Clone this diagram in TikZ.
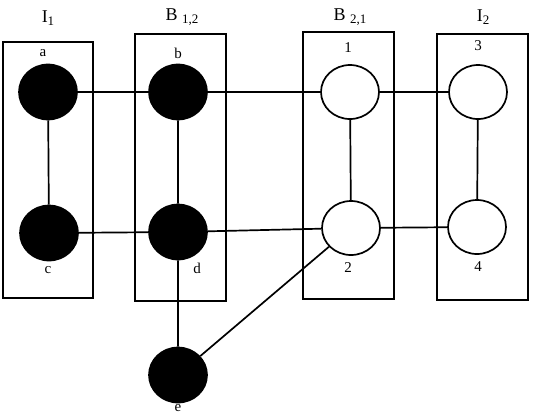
\documentclass[tikz,border=0pt]{standalone}
\usepackage{fontspec}
\setmainfont{Liberation Serif}
\usetikzlibrary{shapes.geometric}
\begin{document}
\begin{tikzpicture}[x=1pt,y=-1pt,line width=1.7pt,
  full/.style={ellipse,fill=black,draw,minimum width=58pt,minimum height=55pt,inner sep=0pt},
  empty/.style={ellipse,fill=white,draw,minimum width=58pt,minimum height=54pt,inner sep=0pt},
  lbl/.style={font=\fontsize{15}{17}\selectfont,inner sep=0pt},
  ttl/.style={font=\fontsize{18}{20}\selectfont,inner sep=0pt}]
\useasboundingbox (0,0) rectangle (535,416);
% Cajas
\draw (3,42) rectangle (93,298);
\draw (135,34) rectangle (226,301);
\draw (303,32) rectangle (394,299);
\draw (437,34) rectangle (528,300);
\node[ttl] (ti1) at (48,18) {I\raisebox{-0.45ex}{\fontsize{13}{15}\selectfont 1}};
\node[ttl] (tb12) at (182,17) {B \raisebox{-0.45ex}{\fontsize{13}{15}\selectfont 1,2}};
\node[ttl] (tb21) at (350,17) {B \raisebox{-0.45ex}{\fontsize{13}{15}\selectfont 2,1}};
\node[ttl] (ti2) at (483,17) {I\raisebox{-0.45ex}{\fontsize{13}{15}\selectfont 2}};
% Vertices
\node[full] (a) at (48,92) {};
\node[full] (b) at (178,92) {};
\node[full] (c) at (49,233) {};
\node[full] (d) at (178,232) {};
\node[full] (e) at (178,375) {};
\node[empty] (v1) at (350,92) {};
\node[empty] (v3) at (478,92) {};
\node[empty] (v2) at (351,228) {};
\node[empty] (v4) at (477,227) {};
\node[lbl] (la) at (43,53) {a};
\node[lbl] (lb) at (178,53) {b};
\node[lbl] (l1) at (348,48) {1};
\node[lbl] (l3) at (478,46) {3};
\node[lbl] (lc) at (48,270) {c};
\node[lbl] (ld) at (197,268) {d};
\node[lbl] (l2) at (348,268) {2};
\node[lbl] (l4) at (478,267) {4};
\node[lbl] (le) at (178,408) {e};
% Aristas
\draw (a) -- (b) (b) -- (v1) (v1) -- (v3);
\draw (c) -- (d) (d) -- (v2) (v2) -- (v4);
\draw (a) -- (c) (b) -- (d) (v1) -- (v2) (v3) -- (v4);
\draw (d) -- (e) (e) -- (v2);
\end{tikzpicture}
\end{document}
